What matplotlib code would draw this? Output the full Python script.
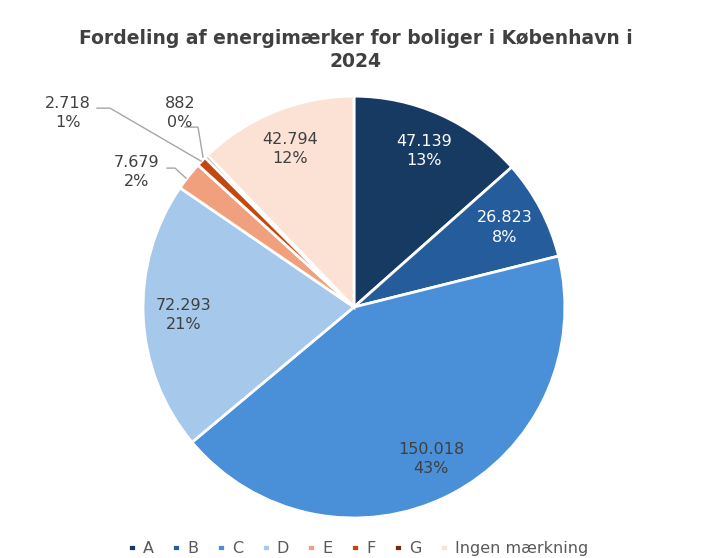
import numpy as np
import matplotlib.pyplot as plt

labels = ['A', 'B', 'C', 'D', 'E', 'F', 'G', 'Ingen mærkning']
values = [47139, 26823, 150018, 72293, 7679, 2718, 882, 42794]
colors = ['#173a63', '#255d9c', '#4a90d9', '#a5c8eb', '#f0a07c', '#c4470f', '#7a2a0a', '#fbe2d5']
value_text = ['47.139', '26.823', '150.018', '72.293', '7.679', '2.718', '882', '42.794']
pct_text = ['13%', '8%', '43%', '21%', '2%', '1%', '0%', '12%']

fig = plt.figure(figsize=(7.02, 5.58), dpi=100)
ax = fig.add_axes([0.2037, 0.0717, 0.601, 0.756])

wedges, _ = ax.pie(values, colors=colors, startangle=90, counterclock=False,
                   radius=1, wedgeprops=dict(edgecolor='white', linewidth=2))
ax.set_xlim(-1, 1)
ax.set_ylim(-1, 1)
ax.set_aspect('equal')
ax.axis('off')

total = sum(values)
txt_color = ['white', 'white', '#404040', '#404040', '#404040', '#404040', '#404040', '#404040']
cum = 0
for i, v in enumerate(values):
    mid = (cum + v / 2) / total
    cum += v
    if i in (4, 5, 6):
        continue
    ang = np.deg2rad(90 - mid * 360)
    r = 0.81
    ax.text(r * np.cos(ang), r * np.sin(ang), value_text[i] + '\n' + pct_text[i],
            ha='center', va='center', fontsize=11.5, color=txt_color[i],
            linespacing=1.35)

# small slices with leader lines (figure pixel positions -> data via axes)
def px(x, y):
    # convert image pixel coords to data coords
    cx, cy, rad = 354, 307, 211
    return ((x - cx) / rad, (cy - y) / rad)

lbl_pos = {4: (137, 172), 5: (68, 113), 6: (180, 113)}
lines = {4: [(167, 168), (175, 168), (186, 178)],
         5: [(97, 108), (110, 108), (201, 161)],
         6: [(185, 127), (198, 127), (203, 157)]}
for i in (4, 5, 6):
    x, y = px(*lbl_pos[i])
    ax.text(x, y, value_text[i] + '\n' + pct_text[i], ha='center', va='center',
            fontsize=11.5, color='#404040', linespacing=1.35)
    pts = [px(*p) for p in lines[i]]
    ax.plot([p[0] for p in pts], [p[1] for p in pts], color='#a6a6a6',
            linewidth=1, clip_on=False)

fig.suptitle('Fordeling af energimærker for boliger i København i\n2024',
             x=0.507, y=0.948, fontsize=13.5, fontweight='bold', color='#404040',
             linespacing=1.25)

fig.legend(wedges, labels, loc='lower center', bbox_to_anchor=(0.51, -0.022),
           ncol=8, frameon=False, fontsize=11.5, handlelength=0.5, handleheight=0.3,
           handletextpad=0.45, columnspacing=1.15, labelcolor='#595959')

fig.savefig('out.png', dpi=100)
